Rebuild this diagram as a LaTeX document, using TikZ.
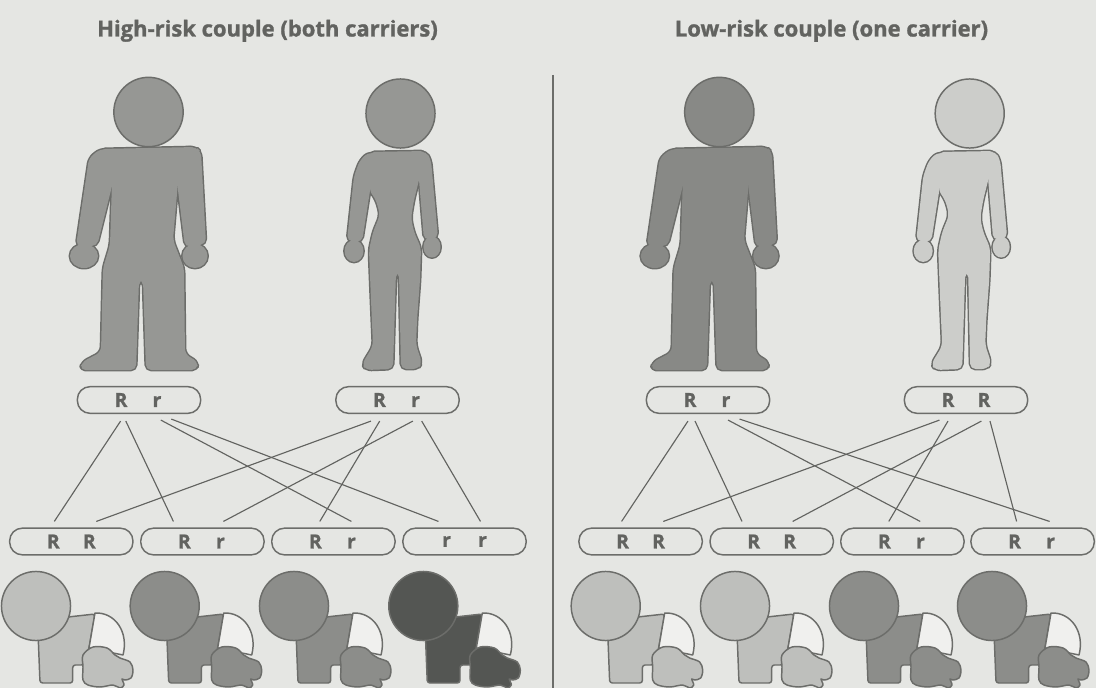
\documentclass[tikz,border=0pt]{standalone}
\usepackage{fontspec}
\setmainfont{Open Sans}[BoldFeatures={FakeBold=1.2}]
\usetikzlibrary{calc}

\definecolor{bg}{RGB}{229,230,227}
\definecolor{ink}{RGB}{98,99,96}
\definecolor{edge}{RGB}{108,109,106}
\definecolor{fmid}{RGB}{150,151,148}
\definecolor{fdark}{RGB}{136,137,134}
\definecolor{flight}{RGB}{204,205,202}
\definecolor{blight}{RGB}{190,191,188}
\definecolor{bmid}{RGB}{140,141,138}
\definecolor{bdark}{RGB}{84,86,83}
\definecolor{diaper}{RGB}{240,240,238}

\tikzset{
  allele/.style={draw=edge, line width=1.1pt, rounded corners=9.5pt,
    minimum width=92.5pt, minimum height=20pt, inner sep=0pt,
    font=\bfseries\fontsize{14.5}{14.5}\selectfont, text=ink},
  link/.style={draw=ink, line width=0.85pt},
  heading/.style={font=\bfseries\fontsize{16.5}{16.5}\selectfont, text=ink, anchor=base},
  outline/.style={draw=edge, line width=2.2pt, line join=round, rounded corners=4pt},
  body/.style={fill=#1, rounded corners=4pt},
  part/.style={fill=#1, draw=edge, line width=1.1pt, line join=round}
}

% two alleles, centred 36px apart
\newcommand\pair[2]{\makebox[0pt]{#1}\hspace{27pt}\makebox[0pt]{#2}}

% male figure: torso with legs, two arms, two hands
\newcommand\manparts[1]{%
  \path[#1] (100,149) -- (196,147) -- (178,182) -- (173,240) -- (184,268) -- (185,354)
     -- (198,362) -- (197,370) -- (146,370) -- (143,280) -- (139,280) -- (136,370)
     -- (80,370) -- (82,362) -- (101,352) -- (103,268) -- (110,245) -- (112,182) -- cycle;
  \path[#1] (100,149) -- (114,150) -- (113,182) -- (97,246) -- (76,246) -- (89,158) -- cycle;
  \path[#1] (196,147) -- (201,152) -- (206,244) -- (185,247) -- (177,182) -- (180,148) -- cycle;
  \path[#1] (84,256) ellipse [x radius=10.5pt, y radius=9pt];
  \path[#1] (195,256) ellipse [x radius=9.4pt, y radius=9pt];
}
\newcommand\manfig[2]{%
  \begin{scope}[shift={(#1,0)}]
    \manparts{outline}
    \manparts{body=#2}
    \path[part=#2] (148.5,112) circle [radius=26pt];
  \end{scope}}

% female figure
\newcommand\womanparts[1]{%
  \path[#1] (369,152) -- (426,151) -- (419,180) -- (414,200) -- (411,218) -- (414,232)
     -- (421,248) -- (420,280) -- (417,320) -- (416,345) -- (422,363) -- (418,369)
     -- (401,369) -- (399,272) -- (396,272) -- (393,369) -- (366,370) -- (362,364)
     -- (373,346) -- (371,300) -- (369,250) -- (373,232) -- (380,215) -- (376,200)
     -- (369,190) -- (372,177) -- cycle;
  \path[#1] (369,152) -- (381,156) -- (372,178) -- (362,242) -- (347,241) -- (354,176) -- (360,160) -- cycle;
  \path[#1] (426,151) -- (431,160) -- (438,238) -- (424,240) -- (419,180) -- (418,153) -- cycle;
  \path[#1] (354,251) ellipse [x radius=7.1pt, y radius=8.2pt];
  \path[#1] (432,247) ellipse [x radius=6.4pt, y radius=7.9pt];
}
\newcommand\womanfig[2]{%
  \begin{scope}[shift={(#1,0)}]
    \womanparts{outline}
    \womanparts{body=#2}
    \path[part=#2] (400.5,113.5) circle [radius=25.9pt];
  \end{scope}}

% crawling baby, placed by the centre of its head
\newcommand\babyfig[2]{%
  \begin{scope}[shift={(#1,606)}]
    \path[part=#2, rounded corners=2pt] (2,26) -- (4,77) -- (36.7,77) -- (36.7,59) -- (48,59)
       -- (53,42) -- (59,8) -- (32,11) -- cycle;
    \path[part=diaper] (59,7) .. controls (79,6) and (93,26) .. (87,49) -- (53,42) -- cycle;
    \path[part=#2] plot[smooth cycle, tension=0.55] coordinates {(47,49) (57,41) (71,42)
       (79,49) (84,52) (94,56) (97,64) (95,72) (89,74) (86,73) (88,79) (84,82) (77,79)
       (64,81) (52,79) (47,74) (47,61)};
    \path[part=#2] (0,0) circle [radius=25.9pt];
  \end{scope}}

\begin{document}
\begin{tikzpicture}[x=0.75pt, y=-0.75pt]
  \useasboundingbox (0,0) rectangle (1096,688);
  \fill[bg] (0,0) rectangle (1096,688);

  % headings and divider
  \node[heading] (hl) at (267.5,36.5) {High-risk couple (both carriers)};
  \node[heading] (hr) at (831.5,36.5) {Low-risk couple (one carrier)};
  \draw[draw=edge, line width=1.1pt] (553,75) -- (553,688);

  % parents
  \manfig{0}{fmid}
  \womanfig{0}{fmid}
  \manfig{570.8}{fdark}
  \womanfig{569.2}{flight}

  % left couple: genotypes
  \node[allele] (lm) at (139,400) {\pair{R}{r}};
  \node[allele] (lw) at (397.5,400) {\pair{R}{r}};
  \node[allele] (lc1) at (71.3,541.5) {\pair{R}{R}};
  \node[allele] (lc2) at (202.4,541.5) {\pair{R}{r}};
  \node[allele] (lc3) at (333.4,541.5) {\pair{R}{r}};
  \node[allele] (lc4) at (464.5,541.5) {\pair{r}{r}};

  \draw[link] ($(lm.south)+(-18.4,7)$) -- ($(lc1.north)+(-17,-6)$);
  \draw[link] ($(lm.south)+(-13.2,7)$) -- ($(lc2.north)+(-29,-6)$);
  \draw[link] ($(lm.south)+(21.8,6)$) -- ($(lc3.north)+(18,-6)$);
  \draw[link] ($(lm.south)+(32.3,5)$) -- ($(lc4.north)+(-26,-6)$);
  \draw[link] ($(lw.south)+(-26.5,7)$) -- ($(lc1.north)+(25,-6)$);
  \draw[link] ($(lw.south)+(-17.8,7)$) -- ($(lc3.north)+(-13.6,-6)$);
  \draw[link] ($(lw.south)+(15.4,7)$) -- ($(lc2.north)+(21,-6)$);
  \draw[link] ($(lw.south)+(24.2,7)$) -- ($(lc4.north)+(16,-6)$);

  % right couple: genotypes
  \node[allele] (rm) at (708,400) {\pair{R}{r}};
  \node[allele] (rw) at (966,400) {\pair{R}{R}};
  \node[allele] (rc1) at (640.6,541.5) {\pair{R}{R}};
  \node[allele] (rc2) at (771.7,541.5) {\pair{R}{R}};
  \node[allele] (rc3) at (902.4,541.5) {\pair{R}{r}};
  \node[allele] (rc4) at (1032.6,541.5) {\pair{R}{r}};

  \draw[link] ($(rm.south)+(-20,7)$) -- ($(rc1.north)+(-19,-6)$);
  \draw[link] ($(rm.south)+(-13,7)$) -- ($(rc2.north)+(-29.7,-6)$);
  \draw[link] ($(rm.south)+(20,6)$) -- ($(rc3.north)+(17.8,-6)$);
  \draw[link] ($(rm.south)+(31.5,5)$) -- ($(rc4.north)+(17,-6)$);
  \draw[link] ($(rw.south)+(-26.5,6)$) -- ($(rc1.north)+(22.7,-6)$);
  \draw[link] ($(rw.south)+(-18,7)$) -- ($(rc3.north)+(-13.6,-6)$);
  \draw[link] ($(rw.south)+(15.4,7)$) -- ($(rc2.north)+(21,-6)$);
  \draw[link] ($(rw.south)+(24,7)$) -- ($(rc4.north)+(-16,-6)$);

  % children
  \babyfig{36}{blight}
  \babyfig{164.7}{bmid}
  \babyfig{294}{bmid}
  \babyfig{423.3}{bdark}
  \babyfig{605.7}{blight}
  \babyfig{735}{blight}
  \babyfig{864}{bmid}
  \babyfig{992}{bmid}
\end{tikzpicture}
\end{document}
